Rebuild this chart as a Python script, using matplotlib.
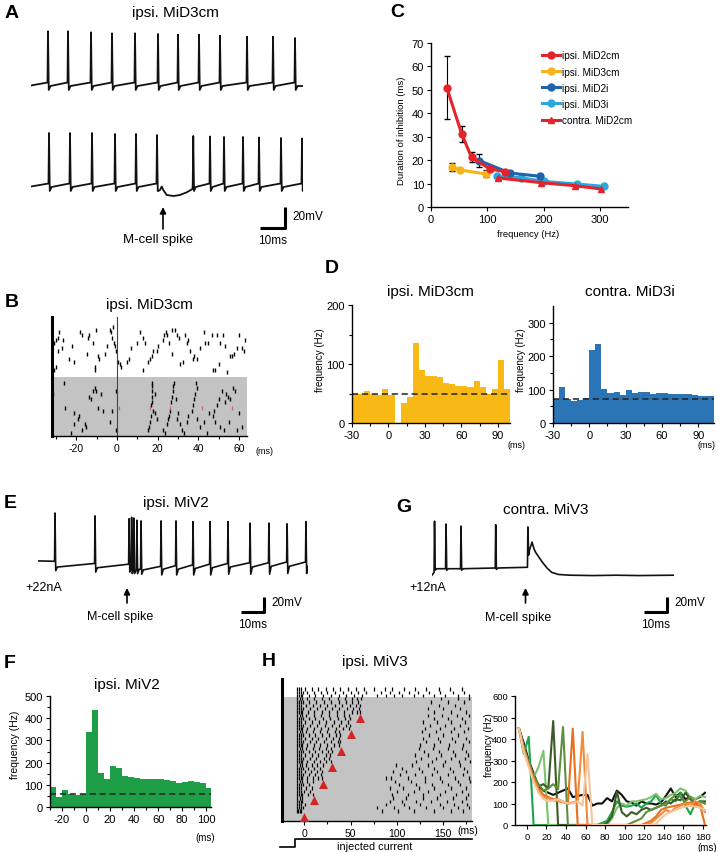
import numpy as np
import matplotlib
matplotlib.use('Agg')
import matplotlib.pyplot as plt

plt.rcParams['font.family'] = ['Liberation Sans', 'DejaVu Sans']
plt.rcParams['axes.unicode_minus'] = False

# ---------------- DATA ----------------
# Panel A traces (spike times ms, peaks mV rel. baseline)
A1_spikes = [6.8, 14.8, 24.0, 32.4, 41.6, 50.8, 58.8, 67.2, 75.6, 86.4, 96.8, 105.6]
A1_peaks = [52.7, 52.7, 51.7, 50.7, 50.7, 50.0, 49.3, 49.3, 48.3, 47.3, 47.3, 46.0]
A2_spikes = [7.2, 15.6, 24.4, 33.6, 42.0, 50.4, 64.9, 71.6, 77.2, 84.8, 91.2, 100.0, 108.4]
A2_peaks = [52, 52, 52, 51, 51, 50, 49, 48.5, 48, 48, 47.5, 47, 46.5]
A2_dip_t = [50.9, 51.6, 52.3, 52.9, 54.3, 57.0, 59.6, 62.3, 64.6]
A2_dip_v = [-6, -5, -1.5, -5, -10, -11, -10, -7.3, -4]
A_mcell = 52.8

# Panel C
C_x_MiD2cm = [28, 54.5, 72, 105, 131]
C_y_MiD2cm = [51, 31.2, 21.2, 16.2, 15.1]
C_e_MiD2cm = [13.5, 3.5, 2.2, 0, 0]
C_x_MiD3cm = [37, 51.5, 97.6]
C_y_MiD3cm = [17.2, 15.8, 14.1]
C_e_MiD3cm = [1.7, 0, 1.5]
C_x_MiD2i = [86, 140, 194]
C_y_MiD2i = [19.8, 14.5, 13.1]
C_e_MiD2i = [2.8, 0, 0]
C_x_MiD3i = [117, 160, 201, 260, 307]
C_y_MiD3i = [13.1, 12.5, 10.9, 9.8, 8.8]
C_x_contra = [119.5, 195, 255, 302]
C_y_contra = [12.4, 10.4, 9.1, 7.7]

# Panel B raster: (time ms, trial row)
B_ctrl = [(-30.9, 6), (-30, 5), (-29.2, 4), (-28.4, 2), (-26.4, 5), (-23.4, 12), (-21, 13), (-18, 2),
          (-17.3, 3), (-13.9, 3), (-14.4, 4), (-11.9, 6), (-10.2, 1), (-9.4, 11), (-8.9, 12), (-11, 15),
          (-10.6, 16), (-3.3, 1), (-2.8, 2), (-2.3, 4), (-1.7, 6), (-1.2, 7), (-0.3, 9), (0.5, 13),
          (1.3, 14), (2.1, 15), (5, 13), (5.9, 12), (9.6, 6), (11.2, 2), (12.9, 4), (13.7, 6),
          (16.2, 12), (17, 11), (17.8, 9), (15.3, 13), (12.9, 16), (19.5, 9), (22.4, 5), (23.1, 3),
          (24.1, 2), (24.8, 3), (25.7, 6), (26.9, 1), (28.5, 1), (29.7, 3), (30.7, 4), (31, 14),
          (32.3, 13), (33.5, 3), (34.3, 6), (35.1, 5), (36, 9), (37.3, 12), (38, 11), (39.3, 12),
          (42.6, 2), (43.4, 6), (45, 6), (46.7, 3), (47.5, 16), (48.3, 16), (49.2, 3), (50, 14),
          (50.8, 6), (52.1, 3), (54.1, 17), (55.8, 11), (56.6, 11), (57.4, 10), (59, 8), (60.2, 3),
          (61.5, 8), (62.7, 9), (-30.9, 16), (-30, 15), (-27, 8), (-15, 10), (-5, 7), (7, 8),
          (20, 7), (27, 10), (41, 8), (53, 7), (63, 5), (-29, 9), (-22, 7), (-6, 10), (-2, 0)]
B_test = [(-26, 1), (-25.4, 10), (-21, 12), (-21, 16), (-19.3, 14), (-18.5, 13), (-17.2, 18), (-16, 16),
          (-15.2, 17), (-13.9, 6), (-12.7, 7), (-11.9, 4), (-11, 3), (-10.2, 4), (-9.4, 10), (-7.8, 5),
          (-6.9, 11), (-22.6, 19), (-3.6, 15), (-2.3, 11), (-0.7, 4), (-0.4, 18), (-31.5, 5),
          (15.3, 18), (15.8, 17), (16.2, 15), (16.5, 13), (16.7, 9), (17, 8), (17, 6), (17.2, 4),
          (17, 2), (17.3, 1), (18.6, 5), (18.6, 12), (19.5, 14), (17.8, 11),
          (22.8, 18), (24.4, 16), (25.2, 14), (25.7, 13), (26, 11), (26.4, 8), (26.9, 6), (27.4, 4),
          (27.7, 2), (28.2, 1), (29.4, 14), (29, 7), (30.2, 12), (31, 16), (31.8, 18),
          (34.3, 15), (35.1, 13), (36.8, 11), (37.6, 9), (38, 7), (38.4, 5), (39.3, 3), (38.9, 1),
          (39.6, 14), (40.9, 17), (42.6, 15), (44.2, 19), (47.2, 13), (47.9, 11), (48.3, 15),
          (49.2, 9), (50, 7), (50.8, 17), (51.7, 4), (52.5, 18), (53.3, 8), (53.8, 5), (54.5, 6),
          (55, 15), (55.8, 7), (57.1, 3), (58, 4), (59, 18), (59.9, 12), (61.5, 17), (23.5, 19),
          (45.5, 12), (33, 19)]
B_red = [(1, 10), (16.2, 10), (26, 10), (41.7, 10), (56.6, 10)]

# Panel D histograms (5 ms bins)
D_left_start = -30
D_left = [50, 50, 54, 49, 48, 57, 47, 0, 34, 44, 135, 89, 80, 79, 78, 68, 66, 63, 62, 61, 71, 61, 49, 58, 107, 58]
D_left_base = 50
D_right_start = -30
D_right = [72, 107, 72, 67, 69, 74, 218, 236, 102, 90, 92, 85, 100, 89, 92, 92, 87, 89, 89, 88, 87, 86, 87, 84, 82, 82, 82]
D_right_base = 72

# Panel E / G traces
E_spikes = [7.4, 24.8, 39.6, 40.7, 41.7, 43.0, 44.8, 53.5, 60.0, 67.4, 74.8, 82.6, 92.2, 100.4, 108.3, 116.5]
E_peaks = [68, 64, 60, 62, 61, 58, 57, 57, 57, 56, 56, 56, 54, 54, 53, 56]
E_pre = [1, -2, -3, -9, -9, -10, -10, -6, -5, -4, -3, -2, -1, -1, 0, 0]
E_trough = [-12, -14, -14, -16, -16, -16, -17, -18, -18, -18, -18, -17, -17, -17, -16, -16]
E_rest = [-7, -8, -9, -10, -10, -10, -11, -10, -10, -9, -8, -7, -7, -6, -6, -6]
E_mcell = 38.7

G_spikes = [1.1, 6.1, 12.6, 27.7, 41.7]
G_peaks = [65, 61, 58, 60, 57]
G_pre = [-6, -1, -1, 0, 1]
G_trough = [-3, -3, -3, -2, 18]
G_rest = [-1, -1, -1, 0, 22]
G_after_t = [42.3, 43.5, 44.3, 45.0, 46.5, 48.0, 50.0, 52.0, 55.0, 60.0, 70.0, 80.0, 90.0, 105.2]
G_after_v = [24, 36, 27, 22, 15, 8, 0, -6, -9, -10, -10.5, -10, -10.5, -10]
G_mcell = 40.7

# Panel F histogram
F_start = -30
F_vals = [90, 45, 75, 60, 53, 60, 338, 438, 153, 125, 183, 177, 140, 135, 130, 128, 128, 125, 128, 120,
          117, 110, 113, 115, 113, 110, 85]
F_base = 57

# Panel H raster: rows bottom->top; groups of 5 rows with M-cell spike at 0,10,...,60; last 3 rows control
H_rows = [
    [-8, -6.5, -5, -3, 84, 101, 118, 140, 158, 171],
    [-8, -6, -4, -1.5, 79, 97, 113, 131, 150, 166, 178],
    [-7.5, -5.5, -3.5, 1, 88, 108, 125, 146, 162, 176],
    [-8, -6, -4, -2, 92, 105, 121, 137, 154, 170],
    [-7.5, -5, -2.5, 96, 110, 128, 143, 160, 174],
    [-8, -6, -4, -2, 4, 9, 95, 112, 128, 147, 164, 177],
    [-8, -6, -4, 0, 6, 100, 118, 133, 152, 170],
    [-7.5, -5.5, -3, 2, 8, 93, 107, 124, 140, 158, 175],
    [-8, -6, -4, -1, 5, 102, 121, 138, 155, 168],
    [-7.5, -5, -2.5, 3, 9, 98, 115, 130, 149, 166, 179],
    [-8, -6, -4, -2, 3, 9, 15, 19, 88, 94, 112, 130, 146, 163, 178],
    [-8, -6, -4, -1, 5, 12, 18, 103, 120, 138, 155, 171],
    [-7.5, -5.5, -3, 1, 7, 14, 19, 96, 110, 127, 143, 160, 176],
    [-8, -6, -4, -1, 4, 11, 17, 105, 124, 140, 157, 172],
    [-7.5, -5, -2.5, 2, 8, 14, 20, 99, 116, 133, 150, 168],
    [-8, -6, -4, -2, 3, 10, 17, 24, 29, 121, 138, 152, 167, 179],
    [-8, -6, -4, -1, 6, 13, 21, 27, 126, 142, 158, 173],
    [-7.5, -5.5, -3, 1, 8, 15, 23, 28, 119, 133, 148, 163, 177],
    [-8, -6, -4, -1, 5, 12, 19, 26, 30, 129, 145, 160, 175],
    [-7.5, -5, -2.5, 2, 9, 16, 24, 29, 124, 139, 155, 170],
    [-8, -6, -4, -2, 3, 10, 17, 25, 32, 38, 125, 140, 156, 171],
    [-8, -6, -4, -1, 6, 13, 21, 29, 36, 39, 131, 147, 163, 178],
    [-7.5, -5.5, -3, 1, 8, 15, 23, 31, 37, 128, 144, 159, 174],
    [-8, -6, -4, -1, 5, 12, 19, 27, 34, 39, 135, 150, 166],
    [-7.5, -5, -2.5, 2, 9, 17, 25, 33, 38, 127, 142, 158, 172],
    [-8, -6, -4, -2, 3, 10, 18, 26, 34, 42, 48, 130, 146, 162, 177],
    [-8, -6, -4, -1, 6, 14, 22, 30, 38, 45, 49, 136, 152, 168],
    [-7.5, -5.5, -3, 1, 8, 16, 24, 32, 40, 47, 128, 143, 158, 173],
    [-8, -6, -4, -1, 5, 12, 20, 28, 36, 44, 49, 140, 155, 170],
    [-7.5, -5, -2.5, 2, 10, 18, 27, 35, 43, 48, 133, 149, 165, 178],
    [-8, -6, -4, -2, 4, 11, 19, 27, 35, 43, 51, 57, 60, 140, 158, 175],
    [-8, -6, -4, -1, 6, 14, 22, 30, 38, 46, 53, 59, 133, 150, 168],
    [-7.5, -5.5, -3, 2, 9, 17, 25, 33, 41, 49, 56, 60, 145, 163],
    [-8, -6, -4, -1, 5, 13, 21, 29, 37, 45, 52, 58, 137, 155, 172],
    [-7.5, -5, -2.5, 3, 11, 19, 27, 36, 44, 51, 57, 61, 148, 166, 178],
    [-8, -6, -4, -2, 5, 12, 20, 29, 37, 45, 54, 62, 78, 88, 97, 106, 118, 128, 140, 152, 166, 178],
    [-8, -6, -4, -1, 3, 10, 18, 25, 33, 42, 50, 58, 67, 83, 92, 102, 113, 123, 135, 147, 160, 172],
    [-7.5, -5.5, -3, 1, 8, 15, 23, 31, 39, 47, 56, 64, 75, 87, 95, 108, 120, 131, 145, 157, 170],
]
H_mcell_times = [0, 10, 20, 30, 40, 50, 60]

# Panel H right: instantaneous frequency (5 ms bins)
HR_t = [-8, -3, 2, 7, 12, 17, 22, 27, 32, 37, 42, 47, 52, 57, 62, 67, 72, 77, 82, 87, 92, 97, 102, 107,
        112, 117, 122, 127, 132, 137, 142, 147, 152, 157, 162, 167, 172, 177, 182]
HR_ctrl = [450, 380, 300, 240, 180, 160, 150, 140, 150, 160, 170, 130, 135, 140, 140, 90, 100, 100, 125, 110,
           160, 140, 110, 105, 90, 110, 100, 100, 95, 105, 135, 170, 130, 150, 120, 130, 120, 130, 150]
HR_g0 = [450, 330, 410] + [0] * 14 + [10, 20, 60, 110, 90, 85, 90, 100, 80, 100, 110, 140, 100, 90, 120, 110,
                                     150, 90, 50, 100, 110, 100]
HR_g1 = [450, 360, 290, 220, 270, 345] + [0] * 13 + [30, 80, 100, 90, 110, 110, 115, 120, 130, 145, 120, 125,
                                                     140, 150, 170, 160, 130, 120, 135, 130]
HR_g2 = [450, 360, 290, 220, 180, 190, 170, 484] + [0] * 10 + [10, 40, 155, 60, 40, 60, 50, 70, 80, 70, 80, 90,
                                                              110, 100, 120, 115, 150, 120, 100, 110, 110]
HR_g3 = [450, 360, 290, 230, 190, 160, 170, 190, 166, 456] + [0] * 13 + [10, 20, 30, 60, 70, 80, 90, 100, 120,
                                                                        140, 130, 110, 130, 100, 110, 100]
HR_g4 = [450, 350, 280, 220, 170, 140, 130, 120, 120, 110, 100, 448] + [0] * 14 + [10, 20, 40, 70, 80, 85, 90,
                                                                                95, 100, 105, 95, 90, 0]
HR_g5 = [450, 350, 280, 210, 160, 130, 125, 115, 110, 105, 100, 105, 110, 433] + [0] * 13 + [10, 30, 50, 70, 60,
                                                                                           80, 90, 100, 90, 110, 100, 60]
HR_g6 = [450, 340, 270, 200, 150, 120, 110, 115, 120, 110, 100, 100, 110, 90, 330] + [0] * 13 + [5, 30, 50, 60,
                                                                                               70, 80, 85, 90, 85, 80, 70]

# ---------------- FIGURE ----------------
W, H = 719, 853
fig = plt.figure(figsize=(W / 100, H / 100), dpi=100)


def axpx(x0, y0, x1, y1):
    return fig.add_axes([x0 / W, 1 - y1 / H, (x1 - x0) / W, (y1 - y0) / H])


def style(ax, lw=1.0, ls=7.5):
    for s in ['top', 'right']:
        ax.spines[s].set_visible(False)
    for s in ['left', 'bottom']:
        ax.spines[s].set_linewidth(lw)
    ax.tick_params(direction='out', length=3, width=0.8, labelsize=ls, pad=2)
    ax.tick_params(which='minor', direction='out', length=2, width=0.8)


def build_trace(t0, t1, v0, spikes, peaks, pre, trough, rest, ins_t=None, ins_v=None):
    t, v = [t0], [v0]
    n = len(spikes)
    for i, ts in enumerate(spikes):
        nxt = spikes[i + 1] if i + 1 < n else t1
        t += [ts - 0.2, ts, ts + 0.3]
        v += [pre[i], peaks[i], trough[i]]
        if ts + 1.0 < nxt - 0.3:
            t.append(ts + 1.0)
            v.append(rest[i])
    t.append(t1)
    v.append(rest[-1])
    t, v = np.array(t), np.array(v, dtype=float)
    if ins_t is not None:
        m = (t > ins_t[0] - 1e-9) & (t < ins_t[-1] + 1e-9)
        t = np.concatenate([t[~m], ins_t])
        v = np.concatenate([v[~m], ins_v])
        o = np.argsort(t, kind='stable')
        t, v = t[o], v[o]
    return t, v


def trace_ax(x0, x1, ybase, ytop, ybot, pxms, pxmv):
    ax = axpx(x0, ytop, x1, ybot)
    ax.set_xlim(0, (x1 - x0) / pxms)
    ax.set_ylim(-(ybot - ybase) / pxmv, (ybase - ytop) / pxmv)
    ax.axis('off')
    return ax


# ---- Panel A ----
n1 = len(A1_spikes)
a1 = trace_ax(31, 303, 85, 25, 100, 2.5, 1.0)
t, v = build_trace(0, 108.8, -1.5, A1_spikes, A1_peaks, [1.5] * n1, [-6] * n1, [-2] * n1)
a1.plot(t, v, color='#111111', lw=1.3)
n2 = len(A2_spikes)
a2 = trace_ax(31, 303, 186, 125, 205, 2.5, 1.0)
t, v = build_trace(0, 108.8, -1.5, A2_spikes, A2_peaks, [1.5] * n2, [-6] * n2, [-2] * n2,
                   np.array(A2_dip_t), np.array(A2_dip_v))
a2.plot(t, v, color='#111111', lw=1.3)

# ---- Panel C ----
axC = axpx(431, 44, 628, 208)
style(axC, ls=8)
RED, YEL, DBL, LBL = '#e5232a', '#f6b41a', '#1f64aa', '#2aa7df'
axC.errorbar(C_x_MiD2cm, C_y_MiD2cm, yerr=C_e_MiD2cm, fmt='none', ecolor='k', elinewidth=0.8, capsize=2, zorder=1)
axC.errorbar(C_x_MiD3cm, C_y_MiD3cm, yerr=C_e_MiD3cm, fmt='none', ecolor='k', elinewidth=0.8, capsize=2, zorder=1)
axC.errorbar(C_x_MiD2i, C_y_MiD2i, yerr=C_e_MiD2i, fmt='none', ecolor='k', elinewidth=0.8, capsize=2, zorder=1)
axC.plot(C_x_MiD3i, C_y_MiD3i, '-o', color=LBL, lw=2.2, ms=5, label='ipsi. MiD3i', zorder=2)
axC.plot(C_x_MiD2i, C_y_MiD2i, '-o', color=DBL, lw=2.2, ms=5, label='ipsi. MiD2i', zorder=3)
axC.plot(C_x_MiD3cm, C_y_MiD3cm, '-o', color=YEL, lw=2.2, ms=5, label='ipsi. MiD3cm', zorder=3)
axC.plot(C_x_contra, C_y_contra, '-^', color=RED, lw=2.2, ms=5, label='contra. MiD2cm', zorder=3)
axC.plot(C_x_MiD2cm, C_y_MiD2cm, '-o', color=RED, lw=2.2, ms=5, label='ipsi. MiD2cm', zorder=4)
axC.set_xlim(0, 350)
axC.set_ylim(0, 70)
axC.set_xticks([0, 100, 200, 300])
axC.set_yticks(range(0, 71, 10))
h, l = axC.get_legend_handles_labels()
order = [l.index(s) for s in ['ipsi. MiD2cm', 'ipsi. MiD3cm', 'ipsi. MiD2i', 'ipsi. MiD3i', 'contra. MiD2cm']]
axC.legend([h[i] for i in order], [l[i] for i in order], loc='upper left', bbox_to_anchor=(0.565, 0.955),
           frameon=False, fontsize=7.2, handlelength=1.8, handletextpad=0.15, labelspacing=0.62,
           borderaxespad=0, borderpad=0)

# ---- Panel B ----
axB = axpx(52, 318, 247, 437)
axB.set_xlim(-32, 64)
axB.set_ylim(0, 119)
axB.add_patch(plt.Rectangle((-32, 0), 96, 59, color='#c3c3c3', lw=0, zorder=0))
bt = np.array([p[0] for p in B_ctrl])
by = 109 - 2.67 * np.array([p[1] for p in B_ctrl])
axB.vlines(bt, by - 2, by + 2, color='k', lw=1.0)
bt = np.array([p[0] for p in B_test])
by = 56 - 2.78 * np.array([p[1] for p in B_test])
axB.vlines(bt, by - 2, by + 2, color='k', lw=1.0)
bt = np.array([p[0] for p in B_red])
by = 56 - 2.78 * np.array([p[1] for p in B_red])
axB.vlines(bt, by - 2, by + 2, color='#d06080', lw=0.9)
axB.axvline(0, color='#444444', lw=0.8)
style(axB)
axB.spines['left'].set_linewidth(2.2)
axB.set_yticks([])
axB.set_xticks([-20, 0, 20, 40, 60])
axB.set_xticks([-30, -10, 10, 30, 50], minor=True)

# ---- Panel D ----
axDl = axpx(352, 306, 510, 424)
xs = D_left_start + 5 * np.arange(len(D_left))
axDl.bar(xs, D_left, width=5, align='edge', color='#f8b914', lw=0)
axDl.axhline(D_left_base, color='#222222', lw=1.1, ls=(0, (4, 2.5)))
axDl.set_xlim(-30, 100)
axDl.set_ylim(0, 200)
style(axDl, ls=8)
axDl.set_xticks([-30, 0, 30, 60, 90])
axDl.set_xticks([-15, 15, 45, 75], minor=True)
axDl.set_yticks([0, 100, 200])
axDl.set_yticks([50, 150], minor=True)

axDr = axpx(553, 307, 714, 424)
xs = D_right_start + 5 * np.arange(len(D_right))
axDr.bar(xs, D_right, width=5, align='edge', color='#2b75b6', lw=0)
axDr.axhline(D_right_base, color='#222222', lw=1.1, ls=(0, (4, 2.5)))
axDr.set_xlim(-30, 103)
axDr.set_ylim(0, 350)
style(axDr, ls=8)
axDr.set_xticks([-30, 0, 30, 60, 90])
axDr.set_xticks([-15, 15, 45, 75], minor=True)
axDr.set_yticks([0, 100, 200, 300])
axDr.set_yticks([50, 150, 250], minor=True)

# ---- Panel E ----
aE = trace_ax(38, 308, 563, 505, 590, 2.3, 0.72)
t, v = build_trace(0, 117.4, 1.5, E_spikes, E_peaks, E_pre, E_trough, E_rest)
aE.plot(t, v, color='#111111', lw=1.2)

# ---- Panel G ----
aG = trace_ax(432, 674, 569, 515, 588, 2.3, 0.72)
t, v = build_trace(0, 105.2, -10, G_spikes, G_peaks, G_pre, G_trough, G_rest,
                   np.array(G_after_t), np.array(G_after_v))
aG.plot(t, v, color='#111111', lw=1.2)

# ---- Panel F ----
axF = axpx(50, 697, 211, 808)
xs = F_start + 5 * np.arange(len(F_vals))
axF.bar(xs, F_vals, width=5, align='edge', color='#1e9e47', lw=0)
axF.axhline(F_base, color='#222222', lw=1.1, ls=(0, (4, 2.5)))
axF.set_xlim(-30, 104)
axF.set_ylim(0, 500)
style(axF, ls=8)
axF.set_xticks([-20, 0, 20, 40, 60, 80, 100])
axF.set_xticks([-30, -10, 10, 30, 50, 70, 90], minor=True)
axF.set_yticks([0, 100, 200, 300, 400, 500])
axF.set_yticks([50, 150, 250, 350, 450], minor=True)

# ---- Panel H raster ----
axH = axpx(282, 680, 472, 822)
axH.set_xlim(-24, 181)
axH.set_ylim(-3, 40)
axH.add_patch(plt.Rectangle((-24, -3), 205, 37.6, color='#c3c3c3', lw=0, zorder=0))
for r, row in enumerate(H_rows):
    axH.vlines(row, r - 0.5, r + 0.5, color='k', lw=0.9)
axH.scatter(H_mcell_times, [5 * k - 1.7 for k in range(len(H_mcell_times))], marker='^', s=42,
            color='#d42424', zorder=5, clip_on=False, lw=0)
style(axH)
axH.spines['left'].set_linewidth(2.2)
axH.set_yticks([])
axH.set_xticks([0, 50, 100, 150])
axH.set_xticks([25, 75, 125, 175], minor=True)

# ---- Panel H right ----
axR = axpx(515, 697, 706, 826)
axR.plot(HR_t, HR_ctrl, color='#111111', lw=1.5, zorder=2)
for vals, col in [(HR_g0, '#1aa64a'), (HR_g1, '#7cc46b'), (HR_g2, '#3d5a26'), (HR_g3, '#5f8e3e'),
                  (HR_g4, '#e8701e'), (HR_g5, '#f08c3a'), (HR_g6, '#f7c49c')]:
    axR.plot(HR_t, vals, color=col, lw=1.5, zorder=3)
axR.set_xlim(-12, 183)
axR.set_ylim(0, 600)
style(axR, ls=6.8)
axR.set_xticks(range(0, 181, 20))
axR.set_yticks(range(0, 601, 100))

# ---------------- OVERLAY TEXT / ANNOTATIONS ----------------
ov = axpx(0, 0, W, H)
ov.set_xlim(0, W)
ov.set_ylim(H, 0)
ov.axis('off')


def letter(x, y, s):
    ov.text(x, y, s, fontsize=14, fontweight='bold', ha='left', va='center')


def title(x, y, s, fs=11):
    ov.text(x, y, s, fontsize=fs, ha='center', va='center')


def arrow(x, y0, y1):
    ov.annotate('', xy=(x, y1), xytext=(x, y0),
                arrowprops=dict(arrowstyle='-|>', color='k', lw=1.2, mutation_scale=9, shrinkA=0, shrinkB=0))


def scalebar(xr, yb, yt, xl, lab_v, lab_h):
    ov.plot([xl, xr, xr], [yb, yb, yt], color='k', lw=2.2, solid_capstyle='butt')
    ov.text(xr + 7, (yb + yt) / 2 - 2, lab_v, fontsize=8.5, ha='left', va='center')
    ov.text((xl + xr) / 2, yb + 12, lab_h, fontsize=8.5, ha='center', va='center')


# A
letter(5, 13, 'A')
title(175, 13, 'ipsi. MiD3cm')
arrow(163, 230, 208)
title(158, 240, 'M-cell spike', 9.5)
scalebar(285, 229, 208, 260, '20mV', '10ms')

# C
letter(390, 12, 'C')
ov.text(402, 131, 'Duration of inhibition (ms)', fontsize=6.8, rotation=90, ha='center', va='center')
ov.text(528, 234, 'frequency (Hz)', fontsize=6.8, ha='center', va='center')

# B
letter(5, 302, 'B')
title(149, 305, 'ipsi. MiD3cm')
ov.text(264, 452, '(ms)', fontsize=6.5, ha='center', va='center')

# D
letter(325, 268, 'D')
title(430, 292, 'ipsi. MiD3cm')
title(630, 292, 'contra. MiD3i')
ov.text(320, 360, 'frequency (Hz)', fontsize=7, rotation=90, ha='center', va='center')
ov.text(521, 360, 'frequency (Hz)', fontsize=7, rotation=90, ha='center', va='center')
ov.text(517, 446, '(ms)', fontsize=6.5, ha='center', va='center')
ov.text(706, 446, '(ms)', fontsize=6.5, ha='center', va='center')

# E
letter(4, 503, 'E')
title(176, 503, 'ipsi. MiV2')
ov.text(44, 588, '+22nA', fontsize=9, ha='center', va='center')
arrow(127, 604, 589)
title(120, 617, 'M-cell spike', 9)
scalebar(264, 613, 598, 241, '20mV', '10ms')

# G
letter(396, 507, 'G')
title(546, 510, 'contra. MiV3')
ov.text(428, 588, '+12nA', fontsize=9, ha='center', va='center')
arrow(525.5, 604, 589)
title(518, 618, 'M-cell spike', 9)
scalebar(667, 613, 598, 644, '20mV', '10ms')

# F
letter(4, 663, 'F')
title(127, 685, 'ipsi. MiV2')
ov.text(15, 745, 'frequency (Hz)', fontsize=7.5, rotation=90, ha='center', va='center')
ov.text(205, 838, '(ms)', fontsize=7, ha='center', va='center')

# H
letter(262, 662, 'H')
title(375, 662, 'ipsi. MiV3')
ov.text(468, 831, '(ms)', fontsize=7.5, ha='center', va='center')
ov.plot([280, 295, 295, 472], [848, 848, 839.5, 839.5], color='k', lw=1.2)
ov.text(375, 847, 'injected current', fontsize=7.8, ha='center', va='center')
ov.text(489, 745, 'frequency (Hz)', fontsize=7, rotation=90, ha='center', va='center')
ov.text(707, 848, '(ms)', fontsize=7, ha='center', va='center')

fig.savefig('out.png', dpi=100)
